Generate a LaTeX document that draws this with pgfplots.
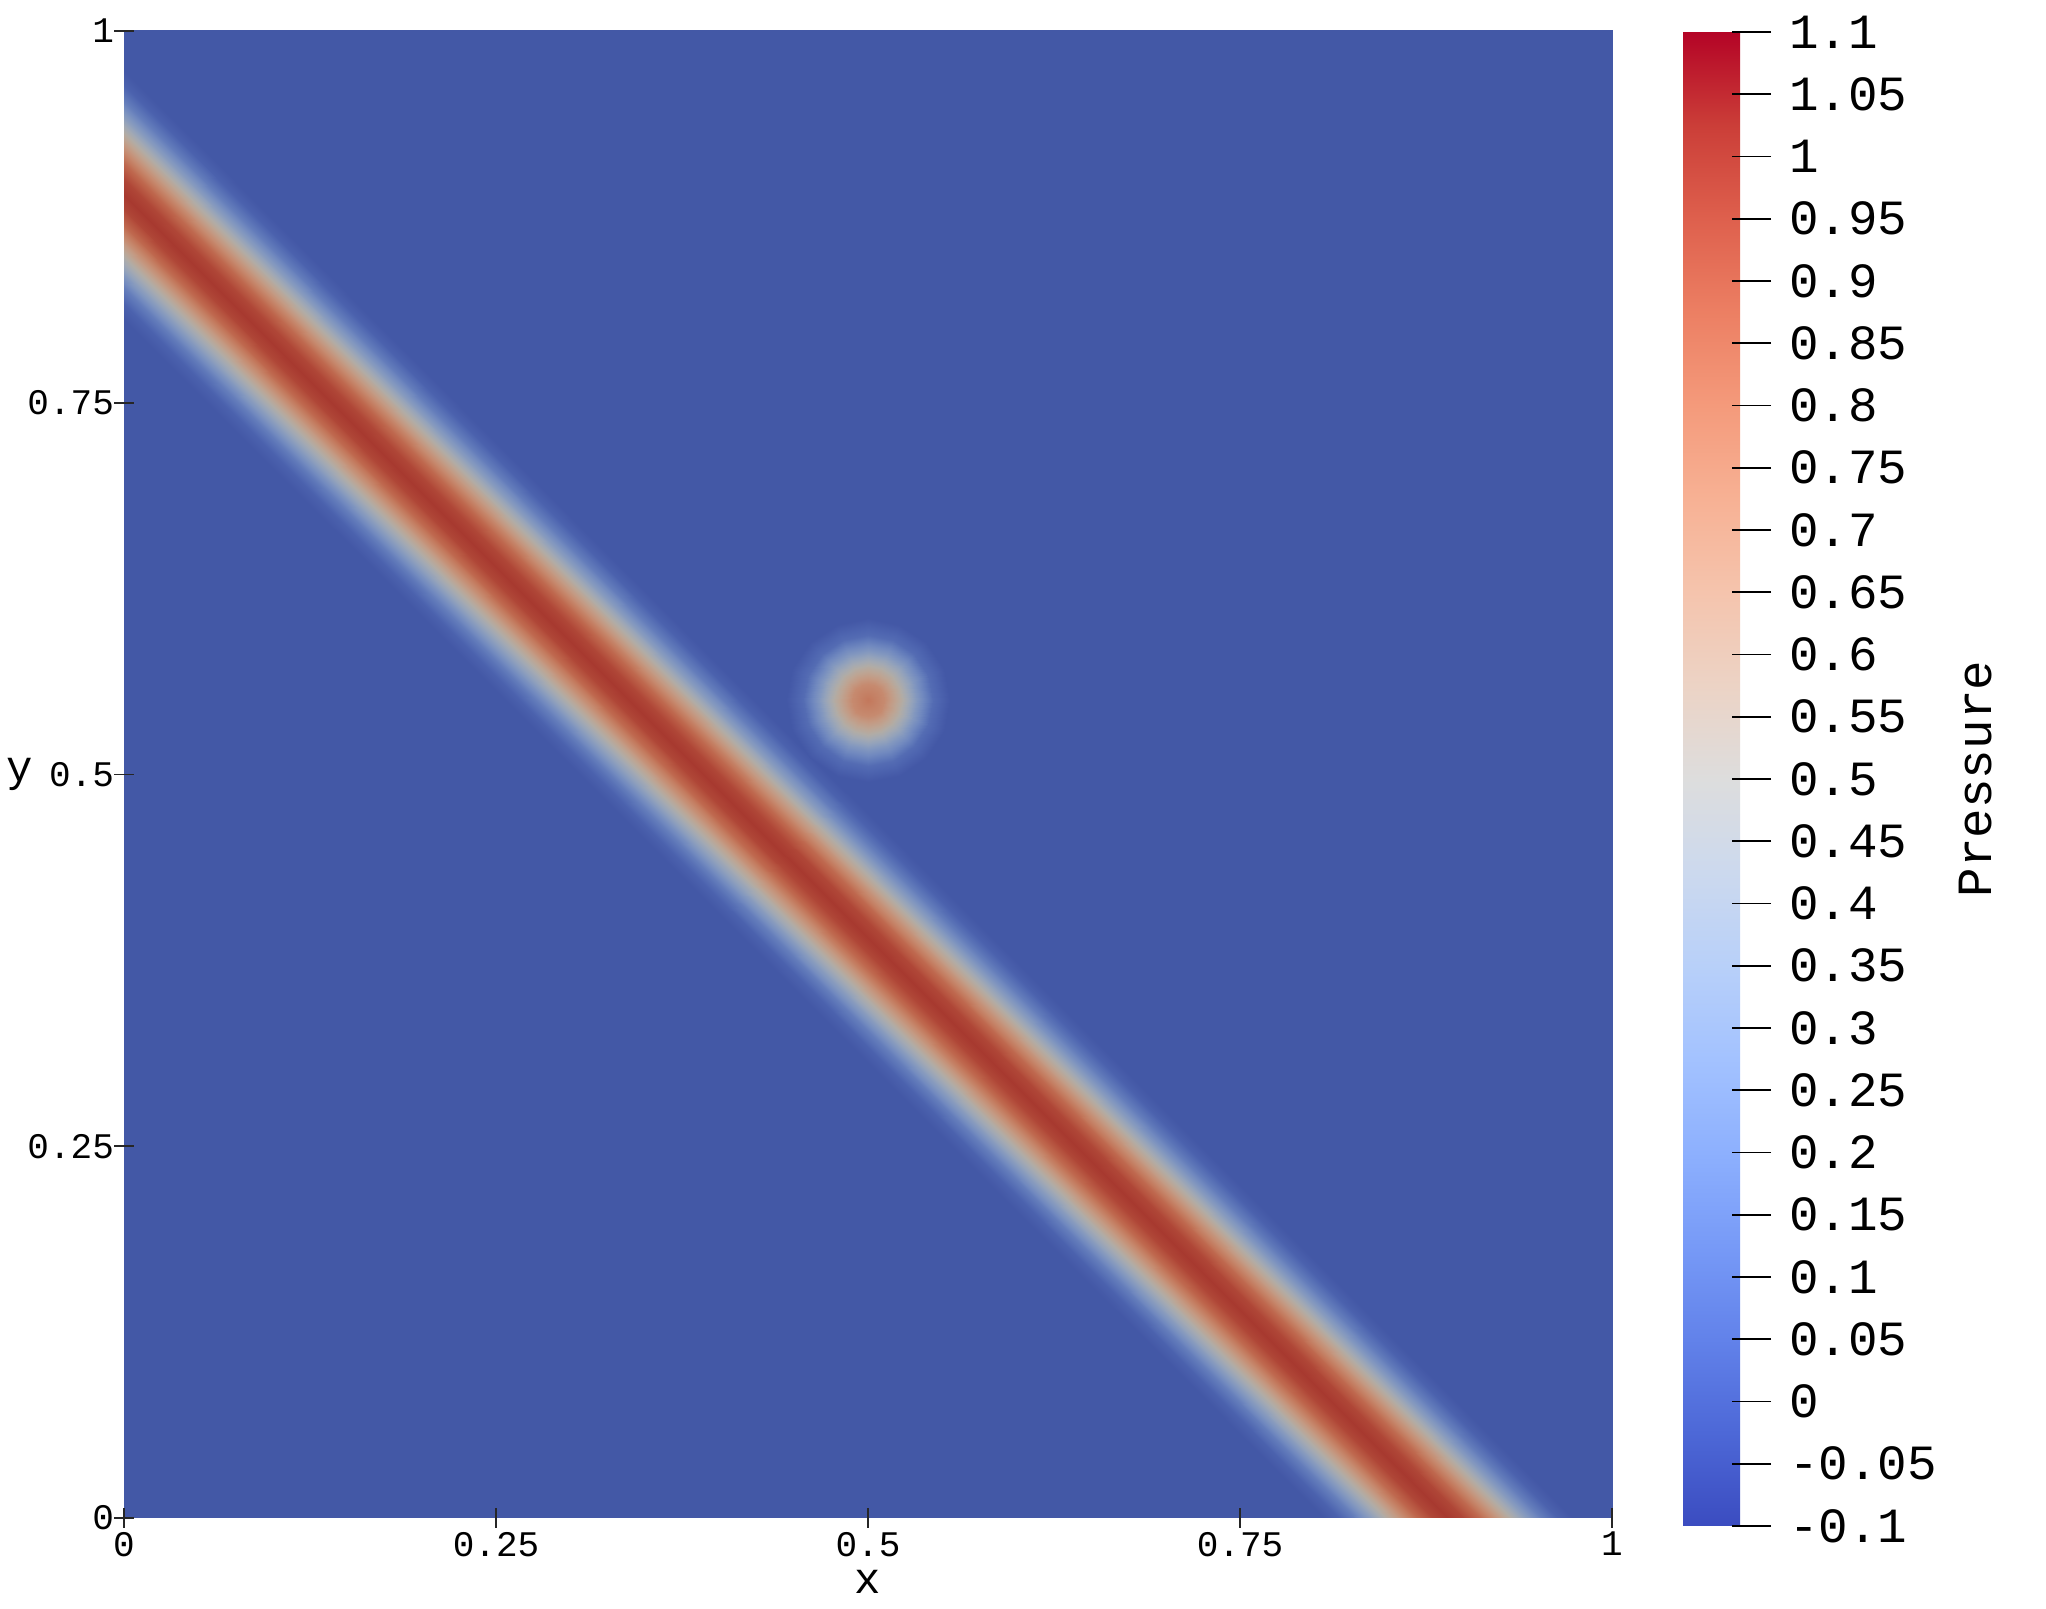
\documentclass[border=0pt]{standalone}
\usepackage{fontspec}
\setmainfont{Liberation Mono}
\usepackage{pgfplots}
\pgfplotsset{compat=1.18}
\newcommand\tkfont{\fontsize{9pt}{10pt}\selectfont}
\newcommand\lbfont{\fontsize{11pt}{12pt}\selectfont}
\newcommand\cbfont{\fontsize{12.3pt}{14pt}\selectfont}
\pgfplotsset{
  colormap={fieldmap}{rgb255=(47,59,144) rgb255=(62,81,161) rgb255=(78,101,176) rgb255=(95,120,185) rgb255=(113,137,191) rgb255=(130,151,191) rgb255=(147,162,187) rgb255=(163,169,179) rgb255=(177,172,166) rgb255=(189,165,148) rgb255=(196,153,130) rgb255=(198,138,111) rgb255=(195,120,92) rgb255=(189,99,74) rgb255=(178,75,58) rgb255=(162,48,42) rgb255=(144,3,29)},
  colormap={coolwarm}{rgb255=(59,76,192) rgb255=(77,104,215) rgb255=(98,130,234) rgb255=(119,154,247) rgb255=(141,176,254) rgb255=(163,194,255) rgb255=(184,208,249) rgb255=(204,217,238) rgb255=(221,221,221) rgb255=(236,211,197) rgb255=(245,196,173) rgb255=(247,177,148) rgb255=(244,154,123) rgb255=(236,127,99) rgb255=(222,96,77) rgb255=(203,62,56) rgb255=(180,4,38)},
}
\begin{document}
\begin{tikzpicture}
\begin{axis}[
  width=372pt, height=371.75pt, scale only axis,
  xmin=0, xmax=1, ymin=0, ymax=1,
  axis line style={draw=none},
  axis on top,
  xtick={0,0.25,0.5,0.75,1}, xticklabels={0,0.25,0.5,0.75,1},
  ytick={0,0.25,0.5,0.75,1}, yticklabels={0,0.25,0.5,0.75,1},
  xtick pos=left, ytick pos=left,
  tick align=center, major tick length=5pt,
  major tick style={line width=0.4pt, black!85},
  ticklabel style={font=\tkfont},
  xticklabel style={yshift=2.5pt},
  yticklabel style={xshift=3.5pt},
  xlabel={x}, ylabel={y},
  every axis x label/.style={at={(axis description cs:0.5,0)}, anchor=center, yshift=-16pt, font=\lbfont},
  every axis y label/.style={at={(axis description cs:0,0.5)}, anchor=center, xshift=-26pt, font=\lbfont},
  point meta min=-0.1, point meta max=1.1,
  colormap name=coolwarm,
  colorbar,
  colorbar style={
    at={(parent axis.north east)}, anchor=north west, xshift=9.25pt, yshift=-0.25pt,
    width=15.25pt, height=373.5pt, scale only axis,
    axis line style={draw=none},
    ytick pos=right, yticklabel pos=right,
    ytick={-0.1,-0.05,0,0.05,0.1,0.15,0.2,0.25,0.3,0.35,0.4,0.45,0.5,0.55,0.6,0.65,0.7,0.75,0.8,0.85,0.9,0.95,1,1.05,1.1},
    yticklabels={-0.1,-0.05,0,0.05,0.1,0.15,0.2,0.25,0.3,0.35,0.4,0.45,0.5,0.55,0.6,0.65,0.7,0.75,0.8,0.85,0.9,0.95,1,1.05,1.1},
    yticklabel style={font=\cbfont, xshift=1pt},
    major tick length=6.75pt, tick align=outside,
    major tick style={black, line width=0.4pt},
    extra y ticks={-0.1,-0.05,0,0.05,0.1,0.15,0.2,0.25,0.3,0.35,0.4,0.45,0.5,0.55,0.6,0.65,0.7,0.75,0.8,0.85,0.9,0.95,1,1.05,1.1},
    extra y tick labels={},
    extra y tick style={tick align=inside, major tick length=3pt, major tick style={black, line width=0.4pt}},
    ylabel={Pressure},
    every axis y label/.style={at={(axis description cs:1,0.5)}, anchor=center, rotate=90, yshift=-57.75pt, font=\cbfont},
  },
]
% band: strips parallel to the line x+y=0.89 (rows of constant x+y)
\addplot[surf, shader=interp, colormap name=fieldmap, point meta=explicit] table[x=x, y=y, meta=v] {
x y v
-0.55 0.5 0
0.5 -0.55 0

-0.122 0.928 0
0.928 -0.122 0

-0.11675 0.93325 0.0381
0.93325 -0.11675 0.0381

-0.1115 0.9385 0.1464
0.9385 -0.1115 0.1464

-0.10625 0.94375 0.3087
0.94375 -0.10625 0.3087

-0.101 0.949 0.5
0.949 -0.101 0.5

-0.09575 0.95425 0.6913
0.95425 -0.09575 0.6913

-0.0905 0.9595 0.8536
0.9595 -0.0905 0.8536

-0.08525 0.96475 0.9619
0.96475 -0.08525 0.9619

-0.08 0.97 1
0.97 -0.08 1

-0.07475 0.97525 0.9619
0.97525 -0.07475 0.9619

-0.0695 0.9805 0.8536
0.9805 -0.0695 0.8536

-0.06425 0.98575 0.6913
0.98575 -0.06425 0.6913

-0.059 0.991 0.5
0.991 -0.059 0.5

-0.05375 0.99625 0.3087
0.99625 -0.05375 0.3087

-0.0485 1.0015 0.1464
1.0015 -0.0485 0.1464

-0.04325 1.00675 0.0381
1.00675 -0.04325 0.0381

-0.038 1.012 0
1.012 -0.038 0

0.5 1.55 0
1.55 0.5 0
};
% blob around (0.5,0.55): rings of constant radius
\addplot[surf, shader=interp, colormap name=fieldmap, point meta=explicit] table[x=x, y=y, meta=v] {
x y v
0.5 0.55 0.8
0.5 0.55 0.8
0.5 0.55 0.8
0.5 0.55 0.8
0.5 0.55 0.8
0.5 0.55 0.8
0.5 0.55 0.8
0.5 0.55 0.8
0.5 0.55 0.8
0.5 0.55 0.8
0.5 0.55 0.8
0.5 0.55 0.8
0.5 0.55 0.8
0.5 0.55 0.8
0.5 0.55 0.8
0.5 0.55 0.8
0.5 0.55 0.8

0.511 0.55 0.7236
0.51016 0.55421 0.7236
0.50778 0.55778 0.7236
0.50421 0.56016 0.7236
0.5 0.561 0.7236
0.49579 0.56016 0.7236
0.49222 0.55778 0.7236
0.48984 0.55421 0.7236
0.489 0.55 0.7236
0.48984 0.54579 0.7236
0.49222 0.54222 0.7236
0.49579 0.53984 0.7236
0.5 0.539 0.7236
0.50421 0.53984 0.7236
0.50778 0.54222 0.7236
0.51016 0.54579 0.7236
0.511 0.55 0.7236

0.522 0.55 0.5236
0.52033 0.55842 0.5236
0.51556 0.56556 0.5236
0.50842 0.57033 0.5236
0.5 0.572 0.5236
0.49158 0.57033 0.5236
0.48444 0.56556 0.5236
0.47967 0.55842 0.5236
0.478 0.55 0.5236
0.47967 0.54158 0.5236
0.48444 0.53444 0.5236
0.49158 0.52967 0.5236
0.5 0.528 0.5236
0.50842 0.52967 0.5236
0.51556 0.53444 0.5236
0.52033 0.54158 0.5236
0.522 0.55 0.5236

0.533 0.55 0.2764
0.53049 0.56263 0.2764
0.52333 0.57333 0.2764
0.51263 0.58049 0.2764
0.5 0.583 0.2764
0.48737 0.58049 0.2764
0.47667 0.57333 0.2764
0.46951 0.56263 0.2764
0.467 0.55 0.2764
0.46951 0.53737 0.2764
0.47667 0.52667 0.2764
0.48737 0.51951 0.2764
0.5 0.517 0.2764
0.51263 0.51951 0.2764
0.52333 0.52667 0.2764
0.53049 0.53737 0.2764
0.533 0.55 0.2764

0.544 0.55 0.0764
0.54065 0.56684 0.0764
0.53111 0.58111 0.0764
0.51684 0.59065 0.0764
0.5 0.594 0.0764
0.48316 0.59065 0.0764
0.46889 0.58111 0.0764
0.45935 0.56684 0.0764
0.456 0.55 0.0764
0.45935 0.53316 0.0764
0.46889 0.51889 0.0764
0.48316 0.50935 0.0764
0.5 0.506 0.0764
0.51684 0.50935 0.0764
0.53111 0.51889 0.0764
0.54065 0.53316 0.0764
0.544 0.55 0.0764

0.555 0.55 0
0.55081 0.57105 0
0.53889 0.58889 0
0.52105 0.60081 0
0.5 0.605 0
0.47895 0.60081 0
0.46111 0.58889 0
0.44919 0.57105 0
0.445 0.55 0
0.44919 0.52895 0
0.46111 0.51111 0
0.47895 0.49919 0
0.5 0.495 0
0.52105 0.49919 0
0.53889 0.51111 0
0.55081 0.52895 0
0.555 0.55 0
};
\coordinate (bl) at (rel axis cs:0,0);
\end{axis}
\pgfresetboundingbox
\path[use as bounding box] (bl) ++(-31pt,-22.5pt) rectangle ++(511.5pt,402pt);
\end{tikzpicture}
\end{document}
